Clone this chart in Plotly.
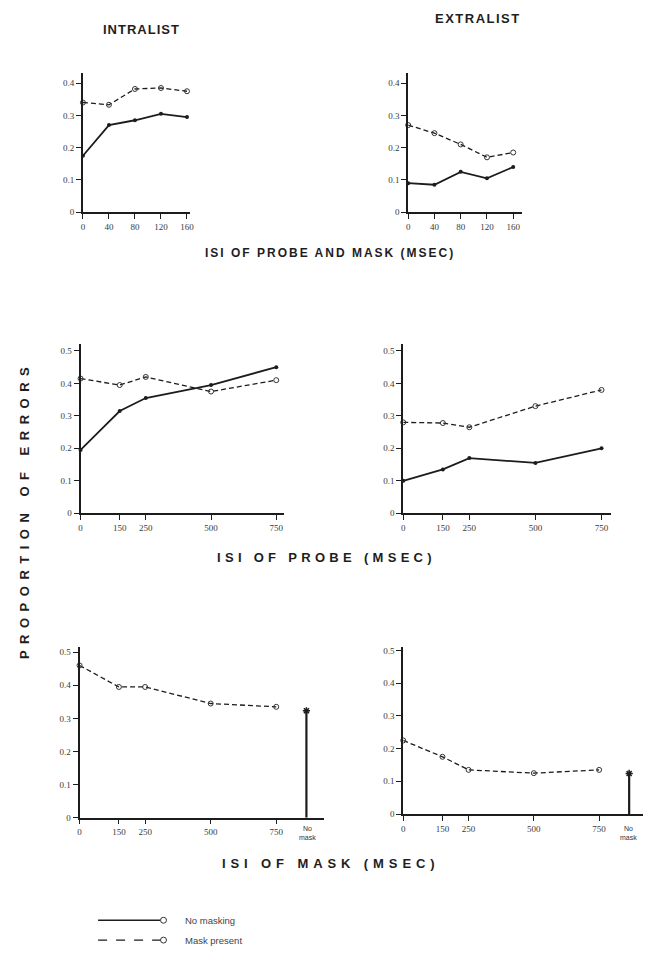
import plotly.graph_objects as go

W, H = 647, 958

# ---------------- data ----------------
probe_mask_isi = [0, 40, 80, 120, 160]
intra_pm_nomask = [0.175, 0.27, 0.285, 0.305, 0.295]
intra_pm_mask = [0.34, 0.333, 0.382, 0.385, 0.375]
extra_pm_nomask = [0.09, 0.085, 0.125, 0.105, 0.14]
extra_pm_mask = [0.27, 0.245, 0.21, 0.17, 0.185]

probe_isi = [0, 150, 250, 500, 750]
intra_p_nomask = [0.195, 0.315, 0.355, 0.395, 0.45]
intra_p_mask = [0.415, 0.395, 0.42, 0.375, 0.41]
extra_p_nomask = [0.1, 0.135, 0.17, 0.155, 0.2]
extra_p_mask = [0.28, 0.278, 0.265, 0.33, 0.38]

mask_isi = [0, 150, 250, 500, 750]
intra_m_mask = [0.46, 0.395, 0.395, 0.345, 0.335]
extra_m_mask = [0.225, 0.175, 0.135, 0.125, 0.135]
no_mask_x = [865]
intra_no_mask = [0.323]
extra_no_mask = [0.124]

top_xticks = [0, 40, 80, 120, 160]
top_xlabels = ["0", "40", "80", "120", "160"]
isi_xticks = [0, 150, 250, 500, 750]
isi_xlabels = ["0", "150", "250", "500", "750"]
top_yticks = [0, 0.1, 0.2, 0.3, 0.4]
top_ylabels = ["0", "0.1", "0.2", "0.3", "0.4"]
low_yticks = [0, 0.1, 0.2, 0.3, 0.4, 0.5]
low_ylabels = ["0", "0.1", "0.2", "0.3", "0.4", "0.5"]

# ---------------- layout geometry (pixels) ----------------
panels = [
    dict(xp=(81.7, 190), yp=(71.7, 211.7), xr=[0, 165], yr=[0, 0.431], xt=top_xticks, xl=top_xlabels, yt=top_yticks, yl=top_ylabels),
    dict(xp=(410, 525), yp=(71.7, 211.7), xr=[0, 173.6], yr=[0, 0.431], xt=top_xticks, xl=top_xlabels, yt=top_yticks, yl=top_ylabels),
    dict(xp=(79.3, 285), yp=(345, 515), xr=[0, 781], yr=[0, 0.52], xt=isi_xticks, xl=isi_xlabels, yt=low_yticks, yl=low_ylabels),
    dict(xp=(405, 615), yp=(345, 515), xr=[0, 787], yr=[0, 0.52], xt=isi_xticks, xl=isi_xlabels, yt=low_yticks, yl=low_ylabels),
    dict(xp=(78.3, 325), yp=(650, 821.7), xr=[0, 932], yr=[0, 0.515], xt=isi_xticks, xl=isi_xlabels, yt=low_yticks, yl=low_ylabels),
    dict(xp=(405, 647), yp=(650, 818), xr=[0, 918], yr=[0, 0.51], xt=isi_xticks, xl=isi_xlabels, yt=low_yticks, yl=low_ylabels),
]

INK = "#1c1c1c"
TICKFONT = dict(family="Liberation Serif", size=9, color="#3a3a3a")

fig = go.Figure()


def solid(x, y, i):
    fig.add_trace(go.Scatter(
        x=x, y=y, xaxis=f"x{i}", yaxis=f"y{i}", mode="lines+markers",
        line=dict(color=INK, width=1.8),
        marker=dict(size=4, color=INK), showlegend=False, cliponaxis=False))


def dashed(x, y, i):
    fig.add_trace(go.Scatter(
        x=x, y=y, xaxis=f"x{i}", yaxis=f"y{i}", mode="lines+markers",
        line=dict(color=INK, width=1.3, dash="5px,3px"),
        marker=dict(size=5, color="#333", symbol="circle-open", line=dict(color="#333", width=1)),
        showlegend=False, cliponaxis=False))


def spike(x, y, i):
    fig.add_trace(go.Scatter(
        x=[x[0], x[0]], y=[0, y[0]], xaxis=f"x{i}", yaxis=f"y{i}", mode="lines",
        line=dict(color=INK, width=2.2), showlegend=False, cliponaxis=False))
    fig.add_trace(go.Scatter(
        x=x, y=y, xaxis=f"x{i}", yaxis=f"y{i}", mode="markers",
        marker=dict(size=6, color=INK, symbol="asterisk-open", line=dict(color=INK, width=1.5)),
        showlegend=False, cliponaxis=False))


dashed(probe_mask_isi, intra_pm_mask, 1)
solid(probe_mask_isi, intra_pm_nomask, 1)
dashed(probe_mask_isi, extra_pm_mask, 2)
solid(probe_mask_isi, extra_pm_nomask, 2)
dashed(probe_isi, intra_p_mask, 3)
solid(probe_isi, intra_p_nomask, 3)
dashed(probe_isi, extra_p_mask, 4)
solid(probe_isi, extra_p_nomask, 4)
dashed(mask_isi, intra_m_mask, 5)
spike(no_mask_x, intra_no_mask, 5)
dashed(mask_isi, extra_m_mask, 6)
spike(no_mask_x, extra_no_mask, 6)

layout = dict(
    width=W, height=H, margin=dict(l=0, r=0, t=0, b=0),
    paper_bgcolor="white", plot_bgcolor="white", showlegend=False,
)
for k, p in enumerate(panels, start=1):
    xd = [p["xp"][0] / W, p["xp"][1] / W]
    yd = [1 - p["yp"][1] / H, 1 - p["yp"][0] / H]
    layout[f"xaxis{k}"] = dict(
        domain=xd, range=p["xr"], anchor=f"y{k}", showgrid=False, zeroline=False,
        showline=True, linecolor=INK, linewidth=1.6, ticks="outside", ticklen=5,
        tickwidth=1.3, tickcolor=INK, tickvals=p["xt"], ticktext=p["xl"], tickfont=TICKFONT)
    layout[f"yaxis{k}"] = dict(
        domain=yd, range=p["yr"], anchor=f"x{k}", showgrid=False, zeroline=False,
        showline=True, linecolor=INK, linewidth=1.8, ticks="outside", ticklen=5,
        tickwidth=1.3, tickcolor=INK, tickvals=p["yt"], ticktext=p["yl"], tickfont=TICKFONT)
fig.update_layout(**layout)


def ptext(txt, x, y, size=13, angle=0, spacing=2.5, weight="bold"):
    fig.add_annotation(
        text=f'<span style="letter-spacing:{spacing}px">{txt}</span>',
        x=x / W, y=1 - y / H, xref="paper", yref="paper", showarrow=False,
        xanchor="center", yanchor="middle", textangle=angle,
        font=dict(family="Liberation Sans", size=size, color="#1e1e1e", weight=weight))


ptext("INTRALIST", 141, 28, size=13, spacing=1)
ptext("EXTRALIST", 480, 17, size=13, spacing=1.5)
ptext("ISI OF PROBE AND MASK (MSEC)", 331, 253, size=12, spacing=2)
ptext("ISI OF PROBE (MSEC)", 328, 560, size=13, spacing=4.3)
ptext("ISI OF MASK (MSEC)", 332, 868, size=13, spacing=4.9)
ptext("PROPORTION OF ERRORS", 22, 512, size=13, angle=-90, spacing=6.5)

# "No mask" category labels
for k, xpx in [(5, 308), (6, 632)]:
    fig.add_annotation(text="No<br>mask", x=xpx / W, y=1 - 837 / H, xref="paper", yref="paper",
                       showarrow=False, xanchor="center", yanchor="middle",
                       font=dict(family="Liberation Sans", size=7, color="#333"))

# legend (drawn as decoration)
for ly, dash, label in [(925, "solid", "No masking"), (945, "dash", "Mask present")]:
    yy = 1 - ly / H
    fig.add_shape(type="line", xref="paper", yref="paper", x0=97 / W, x1=160 / W, y0=yy, y1=yy,
                  line=dict(color=INK, width=1.6 if dash == "solid" else 1.2, dash=dash))
    fig.add_shape(type="circle", xref="paper", yref="paper",
                  x0=160 / W, x1=166 / W, y0=yy - 3 / H, y1=yy + 3 / H,
                  line=dict(color="#333", width=1), fillcolor="white")
    fig.add_annotation(text=label, x=183 / W, y=yy, xref="paper", yref="paper", showarrow=False,
                       xanchor="left", yanchor="middle",
                       font=dict(family="Liberation Sans", size=9.5, color="#444"))

fig.write_html("out.html")
